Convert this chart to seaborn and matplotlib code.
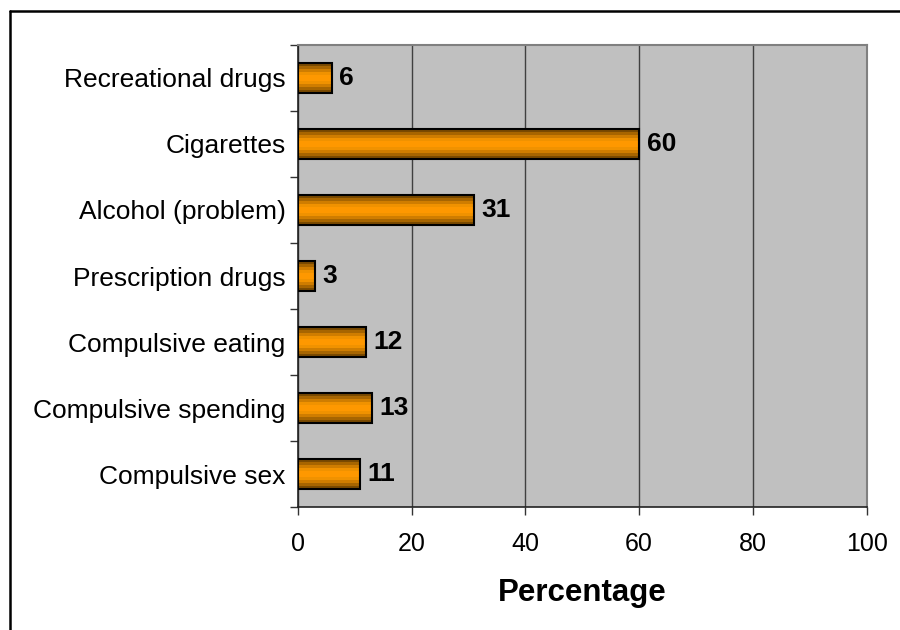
import numpy as np
import matplotlib
matplotlib.use("Agg")
import matplotlib.pyplot as plt
from matplotlib.colors import LinearSegmentedColormap
from matplotlib.lines import Line2D
import seaborn as sns

categories = [
    "Recreational drugs",
    "Cigarettes",
    "Alcohol (problem)",
    "Prescription drugs",
    "Compulsive eating",
    "Compulsive spending",
    "Compulsive sex",
]
percentages = [6, 60, 31, 3, 12, 13, 11]
x_ticks = [0, 20, 40, 60, 80, 100]

sns.set_theme(style="white")
plt.rcParams["font.family"] = ["Liberation Sans", "DejaVu Sans"]
plt.rcParams["text.color"] = "black"
plt.rcParams["xtick.color"] = "black"
plt.rcParams["ytick.color"] = "black"
plt.rcParams["axes.labelcolor"] = "black"

fig = plt.figure(figsize=(9, 6.3), dpi=100)
ax = fig.add_axes([0.331, 0.1952, 0.632, 0.7334])
ax.set_facecolor("#C0C0C0")

sns.barplot(x=percentages, y=categories, orient="h", width=0.44,
            color="#FF9900", edgecolor="black", linewidth=1.5,
            saturation=1, ax=ax, zorder=3)

# Horizontal banded shading inside each bar (dark edges, bright middle)
shade = LinearSegmentedColormap.from_list(
    "shade", ["#7A4A00", "#A86600", "#D07E00", "#F09200", "#FF9900",
              "#FF9900", "#F09200", "#D07E00", "#A86600", "#7A4A00"])
grad = np.linspace(0, 1, 10).reshape(-1, 1)
for patch in ax.patches:
    x0, y0 = patch.get_x(), patch.get_y()
    w, h = patch.get_width(), patch.get_height()
    im = ax.imshow(grad, cmap=shade, aspect="auto", interpolation="nearest",
                   extent=[x0, x0 + w, y0 + h, y0], zorder=2.9)
    im.set_clip_path(patch)
    patch.set_facecolor("none")
    patch.set_zorder(3)

ax.set_xlim(0, 100)
ax.set_ylim(len(categories) - 0.5, -0.5)
ax.set_xticks(x_ticks)
ax.set_xticklabels([str(t) for t in x_ticks], fontsize=18)
ax.tick_params(axis="x", direction="out", length=6, width=1, color="#333333",
               bottom=True, pad=12)
ax.tick_params(axis="y", which="major", length=0, pad=9, labelsize=19)
ax.set_yticks(np.arange(-0.5, len(categories), 1.0), minor=True)
ax.tick_params(axis="y", which="minor", direction="out", length=6, width=1,
               color="#333333", left=True)

ax.grid(axis="x", color="#404040", linewidth=1)
ax.grid(axis="y", visible=False)
ax.set_axisbelow(True)

for side in ("left", "bottom"):
    ax.spines[side].set_color("#222222")
    ax.spines[side].set_linewidth(1.2)
for side in ("top", "right"):
    ax.spines[side].set_color("#808080")
    ax.spines[side].set_linewidth(1.5)
    ax.spines[side].set_visible(True)

for i, v in enumerate(percentages):
    ax.text(v + 1.3, i, str(v), va="center", ha="left", fontsize=19,
            fontweight="bold", color="black", zorder=4)

ax.set_xlabel("Percentage", fontsize=22.5, fontweight="bold", labelpad=16)
ax.set_ylabel("")

# Outer chart frame
fig.add_artist(Line2D([0.011, 1.0], [0.9825, 0.9825], transform=fig.transFigure,
                      color="black", linewidth=1.8))
fig.add_artist(Line2D([0.011, 0.011], [0.0, 0.9825], transform=fig.transFigure,
                      color="black", linewidth=1.8))

fig.savefig("out.png", dpi=100)
